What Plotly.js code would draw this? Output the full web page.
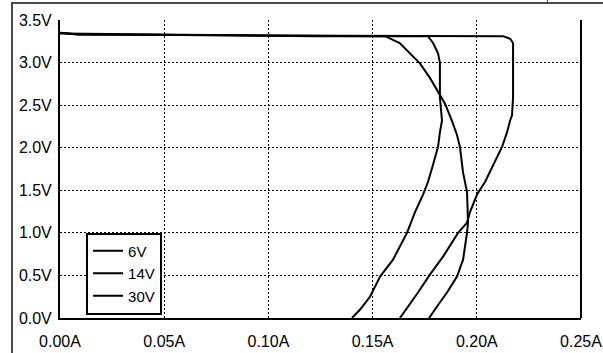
<!DOCTYPE html>
<html><head><meta charset="utf-8">
<script src="https://cdn.plot.ly/plotly-3.0.1.min.js"></script>
<style>html,body{margin:0;padding:0;background:#fff;overflow:hidden}
#wrap{position:relative;width:603px;height:353px}
#c{width:603px;height:353px}
#frame{position:absolute;z-index:1000;left:11px;top:2px;width:600px;height:360px;border-left:2px solid #4a4a4a;border-top:2px solid #4a4a4a;pointer-events:none}
#tick{position:absolute;z-index:1000;left:547px;top:0;width:1px;height:3px;background:#4a4a4a}
</style>
</head><body><div id="wrap"><div id="c"></div><div id="frame"></div><div id="tick"></div></div>
<script>
const seriesNames = ['6V', '14V', '30V'];
const i6 = [0, 0.0086, 0.0816, 0.156, 0.163, 0.168, 0.1727, 0.1775, 0.1814, 0.1847, 0.188, 0.1905, 0.1919, 0.1934, 0.1953, 0.1958, 0.1958, 0.1953, 0.1934, 0.1905, 0.1857, 0.1809, 0.1771];
const v6 = [3.35, 3.33, 3.32, 3.31, 3.23, 3.11, 2.99, 2.82, 2.66, 2.52, 2.32, 2.15, 2.01, 1.71, 1.48, 1.24, 1.12, 1.00, 0.685, 0.486, 0.30, 0.135, 0.0];
const i14 = [0, 0.121, 0.1766, 0.179, 0.1814, 0.1823, 0.1823, 0.1833, 0.1823, 0.1814, 0.179, 0.1766, 0.1742, 0.1703, 0.1665, 0.1598, 0.1536, 0.1488, 0.144, 0.1401];
const v14 = [3.34, 3.31, 3.31, 3.23, 3.11, 3.00, 2.59, 2.32, 2.18, 2.01, 1.80, 1.60, 1.45, 1.24, 1.00, 0.685, 0.486, 0.252, 0.10, 0.0];
const i30 = [0, 0.0086, 0.0816, 0.2126, 0.216, 0.2174, 0.2174, 0.2169, 0.216, 0.2145, 0.2121, 0.2078, 0.204, 0.2001, 0.1967, 0.1953, 0.191, 0.1838, 0.1775, 0.1718, 0.1665, 0.1631];
const v30 = [3.35, 3.33, 3.32, 3.31, 3.28, 3.23, 2.59, 2.38, 2.32, 2.18, 2.01, 1.80, 1.60, 1.45, 1.24, 1.12, 1.00, 0.72, 0.51, 0.30, 0.12, 0.0];
const xTicks = [0, 0.05, 0.10, 0.15, 0.20, 0.25];
const xTickText = ['0.00A', '0.05A', '0.10A', '0.15A', '0.20A', '0.25A'];
const yTicks = [0, 0.5, 1.0, 1.5, 2.0, 2.5, 3.0, 3.5];
const yTickText = ['0.0V', '0.5V', '1.0V', '1.5V', '2.0V', '2.5V', '3.0V', '3.5V'];

const xs = [i6, i14, i30], ys = [v6, v14, v30];
const traces = seriesNames.map((n, k) => ({
  x: xs[k], y: ys[k], name: n, type: 'scatter', mode: 'lines',
  line: {color: '#000', width: 2}
}));
const layout = {
  width: 603, height: 353,
  margin: {l: 60, r: 22, t: 20, b: 35},
  paper_bgcolor: '#fff', plot_bgcolor: '#fff',
  font: {family: '"Liberation Sans", Arial, sans-serif', size: 16, color: '#000'},
  showlegend: true,
  legend: {x: 0.05, y: 0.149, xanchor: 'left', yanchor: 'middle', bgcolor: '#fff',
    bordercolor: '#000', borderwidth: 2, font: {size: 15}, itemwidth: 30,
    tracegroupgap: 0},
  xaxis: {range: [0, 0.25], tickvals: xTicks, ticktext: xTickText, showgrid: true,
    gridcolor: '#000', gridwidth: 1, griddash: '2px,2px', zeroline: false,
    showline: true, linecolor: '#000', linewidth: 2, ticks: '', ticklabelstandoff: 8, fixedrange: true},
  yaxis: {range: [0, 3.5], tickvals: yTicks, ticktext: yTickText, showgrid: true,
    gridcolor: '#000', gridwidth: 1, griddash: '2px,2px', zeroline: false,
    showline: true, linecolor: '#000', linewidth: 2, ticks: '', ticklabelstandoff: 3, fixedrange: true},
  shapes: [
    {type: 'line', xref: 'paper', yref: 'paper', x0: 1, x1: 1, y0: 0, y1: 1, line: {color: '#000', width: 2}}
  ]
};
Plotly.newPlot('c', traces, layout, {staticPlot: true, displayModeBar: false});
</script></body></html>
